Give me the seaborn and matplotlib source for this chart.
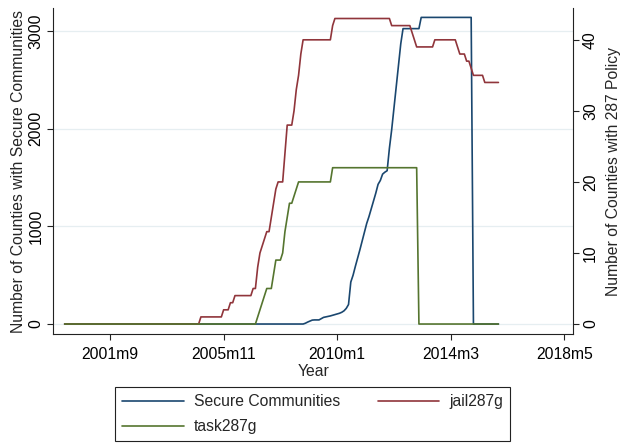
import numpy as np
import matplotlib
matplotlib.use("Agg")
import matplotlib.pyplot as plt
import seaborn as sns

# Monthly counts, 2000m1 through 2015m12
first_month = "2000m1"

secure_communities = (
    [0] * 106
    + [8, 20, 30, 40, 42, 42, 42, 55, 68, 73, 78, 83, 90, 97, 104, 110, 120,
       135, 160, 200, 430, 500, 590, 675, 760, 850, 940, 1030, 1100, 1180,
       1260, 1340, 1430, 1470, 1535, 1555, 1570, 1800, 1990, 2210, 2430,
       2650, 2870]
    + [3025] * 8
    + [3140] * 23
    + [0] * 12
)

jail287g = (
    [0] * 60 + [1] * 10 + [2] * 3 + [3] * 2 + [4] * 8 + [5] * 2
    + [8, 10, 11, 12, 13, 13, 15, 17, 19]
    + [20] * 3 + [24, 28, 28, 28] + [30, 33, 35, 38]
    + [40] * 13 + [42] + [43] * 25 + [42] * 9 + [41, 40] + [39] * 8
    + [40] * 10 + [39] + [38] * 3 + [37] * 2 + [36] + [35] * 5 + [34] * 7
)

task287g = (
    [0] * 85
    + [1, 2, 3, 4, 5, 5, 5, 7, 9, 9, 9, 10, 13, 15, 17, 17, 18, 19]
    + [20] * 15 + [22] * 38 + [0] * 36
)

x_tick_labels = ["2001m9", "2005m11", "2010m1", "2014m3", "2018m5"]
left_ticks = [0, 1000, 2000, 3000]
right_ticks = [0, 10, 20, 30, 40]


def stata_month(label):
    year, month = label.split("m")
    return (int(year) - 1960) * 12 + int(month) - 1


start = stata_month(first_month)
months = np.arange(start, start + len(secure_communities))

NAVY = "#1a476f"
MAROON = "#90353b"
FOREST = "#55752f"
GRID = "#e6eef1"
FS = 11.3

sns.set_style("ticks")
plt.rcParams["font.family"] = ["Liberation Sans", "DejaVu Sans"]

fig = plt.figure(figsize=(6.21, 4.43), dpi=100)
ax = fig.add_axes([0.0858, 0.246, 0.8375, 0.735])
ax2 = ax.twinx()

sns.lineplot(x=months, y=secure_communities, ax=ax, color=NAVY,
             linewidth=1.2, legend=False)
sns.lineplot(x=months, y=jail287g, ax=ax2, color=MAROON,
             linewidth=1.2, legend=False)
sns.lineplot(x=months, y=task287g, ax=ax2, color=FOREST,
             linewidth=1.2, legend=False)

ax.set_xlim(475, 704)
ax.set_ylim(-102.4, 3232)
ax2.set_ylim(-1.407, 44.42)

ax.set_xticks([stata_month(t) for t in x_tick_labels])
ax.set_xticklabels(x_tick_labels, fontsize=FS)
ax.set_yticks(left_ticks)
ax.set_yticklabels([str(v) for v in left_ticks], fontsize=FS, rotation=90,
                   va="center")
ax2.set_yticks(right_ticks)
ax2.set_yticklabels([str(v) for v in right_ticks], fontsize=FS, rotation=90,
                    va="center")

ax.yaxis.grid(True, color=GRID, linewidth=0.9)
ax.xaxis.grid(False)
ax.set_axisbelow(True)

for a in (ax, ax2):
    a.spines["top"].set_visible(False)
    for s in ("left", "right", "bottom"):
        a.spines[s].set_color("#222222")
        a.spines[s].set_linewidth(0.8)
    a.tick_params(direction="out", length=4, width=0.8, color="#222222",
                  labelcolor="black")
ax.spines["right"].set_visible(False)
ax2.spines["left"].set_visible(False)
ax2.spines["bottom"].set_visible(False)
ax.tick_params(axis="y", pad=3)
ax2.tick_params(axis="y", pad=3)
ax.tick_params(axis="x", pad=5)

ax.set_xlabel("Year", fontsize=FS, labelpad=2)
ax.set_ylabel("Number of Counties with Secure Communities", fontsize=FS,
              labelpad=1.5)
ax2.set_ylabel("Number of Counties with 287 Policy", fontsize=FS, labelpad=6)

h_sc = ax.get_lines()[0]
h_jail, h_task = ax2.get_lines()[0], ax2.get_lines()[1]
leg = fig.legend([h_sc, h_task, h_jail],
                 ["Secure Communities", "task287g", "jail287g"],
                 ncol=2, loc="upper center", bbox_to_anchor=(0.5037, 0.1257),
                 borderaxespad=0.0,
                 fontsize=FS, frameon=True, fancybox=False,
                 handlelength=3.9, handletextpad=0.65, columnspacing=2.4,
                 labelspacing=0.62, borderpad=0.45)
frame = leg.get_frame()
frame.set_edgecolor("#222222")
frame.set_linewidth(0.8)
frame.set_alpha(1)

fig.savefig("out.png", dpi=100, facecolor="white")
